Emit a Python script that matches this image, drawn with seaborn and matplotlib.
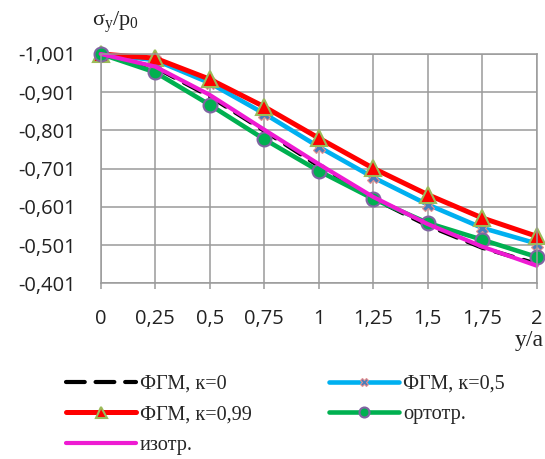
import matplotlib
matplotlib.use("Agg")
import matplotlib.pyplot as plt
import seaborn as sns
import pandas as pd

# ---- data ----
x_vals = [0, 0.25, 0.5, 0.75, 1, 1.25, 1.5, 1.75, 2]
fgm_k0 = [-1.001, -0.966, -0.890, -0.800, -0.708, -0.623, -0.552, -0.494, -0.452]
fgm_k05 = [-1.001, -0.985, -0.925, -0.845, -0.758, -0.678, -0.607, -0.546, -0.505]
fgm_k099 = [-1.001, -0.990, -0.935, -0.863, -0.781, -0.702, -0.633, -0.572, -0.524]
ortho = [-1.001, -0.953, -0.868, -0.778, -0.695, -0.622, -0.559, -0.515, -0.470]
iso = [-1.001, -0.968, -0.894, -0.803, -0.713, -0.627, -0.556, -0.497, -0.447]

x_ticks = [0, 0.25, 0.5, 0.75, 1, 1.25, 1.5, 1.75, 2]
x_tick_labels = ["0", "0,25", "0,5", "0,75", "1", "1,25", "1,5", "1,75", "2"]
y_ticks = [-1.001, -0.901, -0.801, -0.701, -0.601, -0.501, -0.401]
y_tick_labels = ["-1,001", "-0,901", "-0,801", "-0,701", "-0,601", "-0,501", "-0,401"]

labels = ["ФГМ, к=0", "ФГМ, к=0,5", "ФГМ, к=0,99", "ортотр.", "изотр."]

sns.set_style("white")
plt.rcParams["font.family"] = ["Open Sans", "DejaVu Sans"]

fig = plt.figure(figsize=(5.45, 4.59), dpi=100)
ax = fig.add_axes([0.1848, 0.3828, 0.8000, 0.4996])

grid_c = "#9a9a9a"
common = dict(solid_capstyle="round", solid_joinstyle="round")

styles = [
    (fgm_k0, labels[0], dict(color="black", lw=3.0, linestyle=(0, (4.5, 2.6)), marker=None,
                             dash_capstyle="round")),
    (fgm_k05, labels[1], dict(color="#00b0f0", lw=3.3, marker="X", markersize=8,
                              markerfacecolor="#4a7ebb", markeredgecolor="#e89090",
                              markeredgewidth=0.8, **common)),
    (fgm_k099, labels[2], dict(color="#ff0000", lw=3.6, marker="^", markersize=11,
                               markerfacecolor="#ff0000", markeredgecolor="#9bbb59",
                               markeredgewidth=1.5, **common)),
    (ortho, labels[3], dict(color="#00b050", lw=3.3, marker="o", markersize=10,
                            markerfacecolor="#00b050", markeredgecolor="#8064a2",
                            markeredgewidth=1.5, **common)),
    (iso, labels[4], dict(color="#ee1bd2", lw=3.0, marker=None, **common)),
]

handles = {}
for vals, lab, kw in styles:
    df = pd.DataFrame({"x": x_vals, "y": vals})
    sns.lineplot(data=df, x="x", y="y", ax=ax, label=lab, clip_on=False,
                 legend=False, **kw)
    handles[lab] = ax.lines[-1]

ax.set_xlim(0, 2)
ax.set_ylim(-0.401, -1.001)
ax.set_xticks(x_ticks)
ax.set_xticklabels(x_tick_labels)
ax.set_yticks(y_ticks)
ax.set_yticklabels(y_tick_labels)
ax.set_xlabel("")
ax.set_ylabel("")
ax.grid(True, color=grid_c, lw=1.1)
ax.set_axisbelow(True)
for s in ax.spines.values():
    s.set_color(grid_c)
    s.set_linewidth(1.1)
    s.set_visible(True)
ax.tick_params(axis="x", length=4.5, width=1.1, color=grid_c, pad=14, labelsize=14.5, labelcolor="#222222")
ax.tick_params(axis="y", length=0, pad=18, labelsize=14.5, labelcolor="#222222")
ax.tick_params(bottom=True, left=False)

serif = ["Liberation Serif", "DejaVu Serif"]
fig.text(0.168, 0.952, r"$\mathregular{\sigma_y/p_0}$", family=serif, fontsize=16,
         ha="left", va="center", color="#222222")
fig.text(0.997, 0.258, "y/a", family=serif, fontsize=17, ha="right", va="center",
         color="#222222")

order = [labels[0], labels[2], labels[4], labels[1], labels[3]]
leg = fig.legend([handles[l] for l in order], order, loc="upper left",
                 bbox_to_anchor=(0.121, 0.184), ncol=2, frameon=False,
                 prop={"family": serif, "size": 14.6}, handlelength=3.45,
                 handletextpad=0.2, columnspacing=3.8, labelspacing=0.56,
                 borderpad=0, borderaxespad=0, markerscale=0.72)

fig.savefig("out.png", dpi=100)
